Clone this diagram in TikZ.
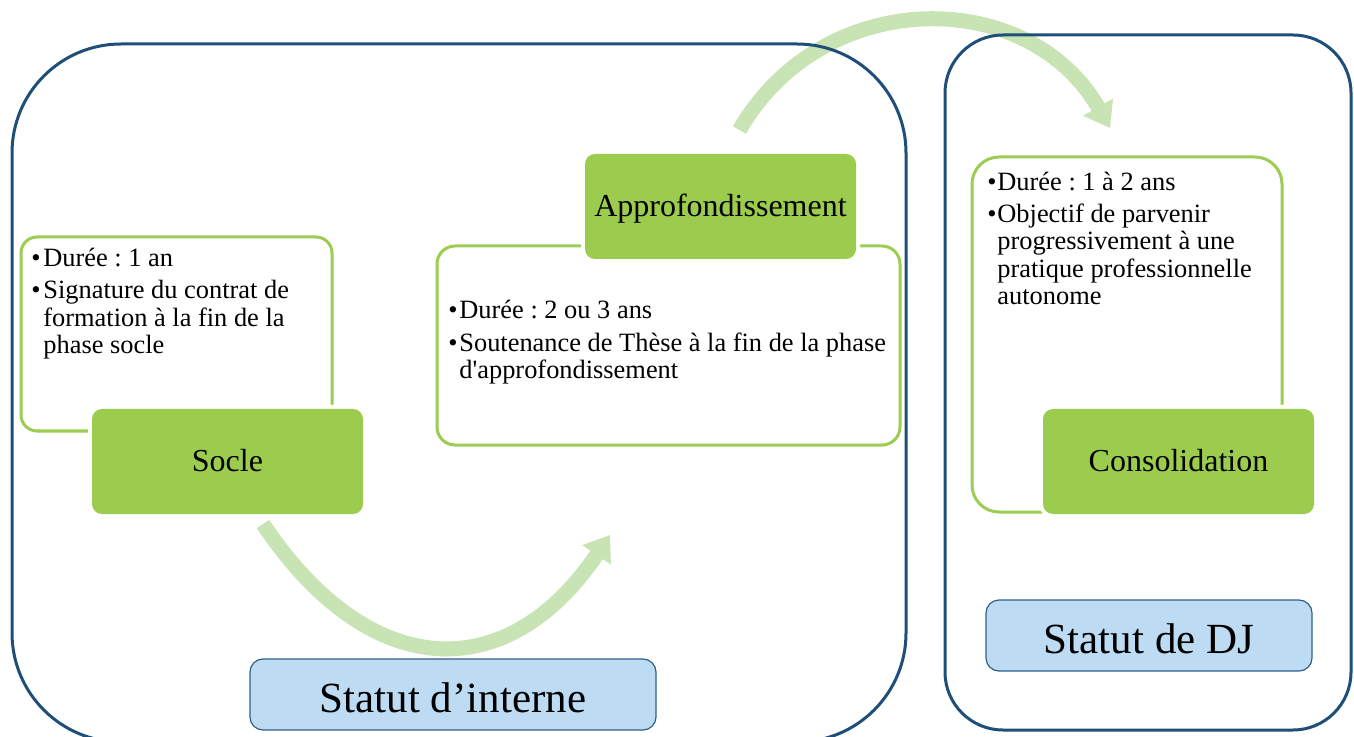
\documentclass[tikz,border=0pt]{standalone}
\usepackage{fontspec}
\setmainfont{Liberation Serif}
\newfontfamily\rawserif{Liberation Serif}
\usetikzlibrary{arrows.meta}
\definecolor{navy}{HTML}{1F4E79}
\definecolor{leaf}{HTML}{9BCC4E}
\definecolor{leafline}{HTML}{9CCD52}
\definecolor{pale}{HTML}{C8E3B4}
\definecolor{sky}{HTML}{BDDCF3}
\definecolor{skyline}{HTML}{2F5F8A}
\frenchspacing
\begin{document}
\begin{tikzpicture}[x=0.5pt,y=-0.5pt,
  outerbox/.style={draw=navy, line width=1.5pt, inner sep=0pt, outer sep=0pt},
  textbox/.style={draw=leafline, line width=1.5pt, fill=white, inner sep=0pt, outer sep=0pt},
  phasebox/.style={fill=leaf, preaction={draw=white, line width=4pt}, rounded corners=5pt,
    minimum width=135.5pt, minimum height=52.5pt, inner sep=0pt, outer sep=0pt,
    text height=10.5pt, text depth=0pt, font=\fontsize{16}{19}\selectfont},
  statusbox/.style={draw=skyline, line width=0.6pt, fill=sky, rounded corners=6.5pt,
    minimum height=35.5pt, inner sep=0pt, outer sep=0pt,
    text height=17.5pt, text depth=0pt, font=\fontsize{21.5}{25}\selectfont},
  flow/.style={draw=pale, line width=7.5pt, -{Triangle[width=16.5pt,length=12pt]}},
  bul/.style={anchor=base west, inner sep=0pt, font=\fontsize{13.2}{15}\selectfont},
  txt/.style={anchor=base west, inner sep=0pt, font=\fontsize{13.2}{15}\selectfont\frenchspacing}
]
\useasboundingbox (0,0) rectangle (1354,737);
\clip (0,0) rectangle (1354,737);

% curved arrows (behind the outlines)
\coordinate (f1a) at (263,524);
\coordinate (f1b) at (610,535);
\draw[flow] (f1a) .. controls (368,681) and (506,689) .. (f1b);
\coordinate (f2a) at (739.5,130);
\coordinate (f2b) at (1110,128);
\draw[flow] (f2a) .. controls (821.7,-13.5) and (1027.8,-15.5) .. (f2b);

% status zones
\node[outerbox, rounded corners=54.5pt, minimum width=447pt, minimum height=349pt] (zone1) at (459,393) {};
\node[outerbox, rounded corners=29pt, minimum width=203pt, minimum height=347.5pt] (zone2) at (1148,382.5) {};

% text boxes
\node[textbox, rounded corners=8pt, minimum width=155.5pt, minimum height=97pt] (socT) at (176.5,334) {};
\node[textbox, rounded corners=9pt, minimum width=231.5pt, minimum height=99.5pt] (appT) at (668.5,345.5) {};
\node[textbox, rounded corners=13.5pt, minimum width=155pt, minimum height=177.5pt] (conT) at (1127,334.5) {};

% phase boxes
\node[phasebox] (socle) at (227.5,461.5) {Socle};
\node[phasebox] (appro) at (720.5,206.5) {Approfondissement};
\node[phasebox] (conso) at (1178.5,461.5) {Consolidation};

% status labels
\node[statusbox, minimum width=203pt] (sint) at (453,694.5) {Statut d’interne};
\node[statusbox, minimum width=163pt] (sdj) at (1149,635.5) {Statut de DJ};

% Socle text
\node[bul] (sb1) at (31,267) {•};
\node[txt] (st1) at (43,267) {Durée : 1 an};
\node[bul] (sb2) at (31,299) {•};
\node[txt] (st2) at (43,299) {Signature du contrat de};
\node[txt] (st3) at (43,326.5) {formation à la fin de la};
\node[txt] (st4) at (43,354) {phase socle};

% Approfondissement text
\node[bul] (ab1) at (448,318.5) {•};
\node[txt] (at1) at (459,318.5) {Durée : 2 ou 3 ans};
\node[bul] (ab2) at (448,351.5) {•};
\node[txt] (at2) at (459,351.5) {Soutenance de Thèse à la fin de la phase};
\node[txt] (at3) at (459,378.5) {\rawserif d'approfondissement};

% Consolidation text
\node[bul] (cb1) at (987,190.5) {•};
\node[txt] (ct1) at (997,190.5) {Durée : 1 à 2 ans};
\node[bul] (cb2) at (987,222.5) {•};
\node[txt] (ct2) at (997,222.5) {Objectif de parvenir};
\node[txt] (ct3) at (997,250) {progressivement à une};
\node[txt] (ct4) at (997,277.5) {pratique professionnelle};
\node[txt] (ct5) at (997,305) {autonome};
\end{tikzpicture}
\end{document}
